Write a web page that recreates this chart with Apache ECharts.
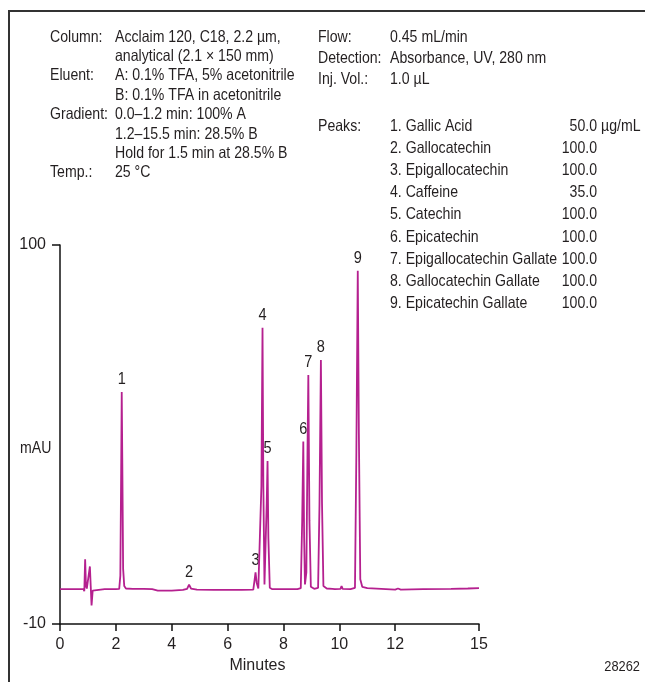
<!DOCTYPE html>
<html>
<head>
<meta charset="utf-8">
<script src="https://cdn.jsdelivr.net/npm/echarts@6/dist/echarts.min.js"></script>
<style>
html,body{margin:0;padding:0;background:#fff;}
#c{width:645px;height:682px;}
</style>
</head>
<body>
<div id="c"></div>
<script>
// ---- data ----
var xTicks = [0, 2, 4, 6, 8, 10, 12, 15];
var yTicks = [-10, 100];
var trace = [
  [0.00, 0.1], [0.50, 0.1], [0.84, 0.1], [0.87, -0.5], [0.90, 8.8], [0.93, 1.0], [0.96, 0.3],
  [1.00, 0.5], [1.07, 6.7], [1.10, 1.0], [1.13, -4.6], [1.17, -0.3], [1.22, 0.2], [1.60, 0.1],
  [2.00, 0.1], [2.12, 0.2], [2.16, 4.0], [2.19, 35.0], [2.21, 57.3], [2.23, 38.0], [2.26, 6.0],
  [2.30, 1.0], [2.36, 0.3], [2.60, 0.2], [3.00, 0.2], [3.30, 0.1], [3.50, -0.3], [4.00, -0.3],
  [4.40, -0.1], [4.55, 0.2], [4.62, 1.4], [4.69, 0.3], [4.90, 0.0], [5.50, -0.1], [6.50, -0.1],
  [6.92, 0.0], [6.97, 3.0], [7.00, 5.0], [7.04, 2.0], [7.10, 0.3], [7.17, 0.5], [7.21, 30.0],
  [7.25, 76.0], [7.28, 30.0], [7.32, 1.5], [7.36, 2.0], [7.40, 25.0], [7.43, 37.3], [7.46, 15.0],
  [7.51, 0.5], [7.60, 0.1], [8.00, 0.1], [8.50, 0.1], [8.62, 0.4], [8.67, 20.0], [8.71, 43.0],
  [8.74, 15.0], [8.77, 1.5], [8.82, 5.0], [8.86, 40.0], [8.89, 62.3], [8.93, 20.0], [8.98, 0.8],
  [9.10, 0.2], [9.24, 0.5], [9.29, 25.0], [9.34, 66.6], [9.38, 25.0], [9.43, 1.0], [9.55, 0.3],
  [9.75, 0.2], [9.80, 0.6], [9.84, 0.1], [10.04, 0.2], [10.08, 1.0], [10.12, 0.2], [10.40, 0.1],
  [10.56, 0.5], [10.61, 40.0], [10.66, 92.5], [10.70, 45.0], [10.75, 3.0], [10.82, 0.8],
  [11.00, 0.4], [11.50, 0.2], [12.00, 0.0], [12.10, 0.3], [12.20, 0.0], [13.00, 0.1],
  [14.00, 0.2], [14.60, 0.3], [15.00, 0.4]
];
var peakNumbers = ['1', '2', '3', '4', '5', '6', '7', '8', '9'];
var peakTimes   = [2.21, 4.62, 7.00, 7.25, 7.43, 8.71, 8.89, 9.34, 10.66];
var peakHeights = [57.3, 1.4, 5.0, 76.0, 37.3, 43.0, 62.3, 66.6, 92.5];

var condLabels = ['Column:', '', 'Eluent:', '', 'Gradient:', '', '', 'Temp.:'];
var condValues = ['Acclaim 120, C18, 2.2 µm,', 'analytical (2.1 × 150 mm)', 'A: 0.1% TFA, 5% acetonitrile',
                  'B: 0.1% TFA in acetonitrile', '0.0–1.2 min: 100% A', '1.2–15.5 min: 28.5% B',
                  'Hold for 1.5 min at 28.5% B', '25 °C'];
var instLabels = ['Flow:', 'Detection:', 'Inj. Vol.:'];
var instValues = ['0.45 mL/min', 'Absorbance, UV, 280 nm', '1.0 µL'];
var peakNames = ['1. Gallic Acid', '2. Gallocatechin', '3. Epigallocatechin', '4. Caffeine', '5. Catechin',
                 '6. Epicatechin', '7. Epigallocatechin Gallate', '8. Gallocatechin Gallate', '9. Epicatechin Gallate'];
var peakAmounts = ['50.0', '100.0', '100.0', '35.0', '100.0', '100.0', '100.0', '100.0', '100.0'];
var amountUnit = 'µg/mL';
var yName = 'mAU';
var xName = 'Minutes';
var figId = '28262';

// ---- chart ----
var FONT = "'Liberation Sans', Arial, sans-serif";
var TXT = '#231f20';
var SX = 0.855;
var chart = echarts.init(document.getElementById('c'), null, {renderer: 'canvas'});

function txt(x, y, s, align, size) {
  return {type: 'text', x: x, y: y, scaleX: SX, scaleY: 1, silent: true,
          style: {text: s, x: 0, y: 0, fill: TXT, font: (size || 16.5) + 'px ' + FONT,
                  textAlign: align || 'left', textVerticalAlign: 'middle'}};
}
var g = [];
g.push({type: 'line', silent: true, shape: {x1: 9, y1: 11, x2: 645, y2: 11}, style: {stroke: '#333', lineWidth: 2}});
g.push({type: 'line', silent: true, shape: {x1: 9, y1: 10, x2: 9, y2: 682}, style: {stroke: '#333', lineWidth: 2}});
for (var i = 0; i < condValues.length; i++) {
  var yy = 37 + i * 19.4;
  if (condLabels[i]) g.push(txt(50, yy, condLabels[i]));
  g.push(txt(115, yy, condValues[i]));
}
for (var i = 0; i < instValues.length; i++) {
  var yy = 37 + i * 21;
  g.push(txt(318, yy, instLabels[i]));
  g.push(txt(390, yy, instValues[i]));
}
g.push(txt(318, 126, 'Peaks:'));
for (var i = 0; i < peakNames.length; i++) {
  var yy = 126 + i * 22.2;
  g.push(txt(390, yy, peakNames[i]));
  g.push(txt(597, yy, peakAmounts[i], 'right'));
}
g.push(txt(601, 126, amountUnit));
g.push(txt(20, 448, yName));
g.push(txt(640, 667, figId, 'right', 15));

var labelData = peakTimes.map(function (t, i) { return [t, peakHeights[i], i]; });

chart.setOption({
  animation: false,
  backgroundColor: '#fff',
  textStyle: {fontFamily: FONT},
  grid: {left: 60, right: 166, top: 245, bottom: 58, containLabel: false},
  xAxis: {
    type: 'value', min: 0, max: 15, interval: 1,
    name: xName, nameLocation: 'middle', nameGap: 33,
    nameTextStyle: {color: TXT, fontSize: 16, fontFamily: FONT, padding: [0, 24, 0, 0]},
    axisLine: {show: true, onZero: false, lineStyle: {color: '#111', width: 1.5}},
    axisTick: {show: true, length: 7, inside: false, customValues: xTicks, lineStyle: {color: '#111', width: 1.5}},
    axisLabel: {show: true, margin: 13, color: TXT, fontSize: 16, fontFamily: FONT, customValues: xTicks},
    splitLine: {show: false}
  },
  yAxis: {
    type: 'value', min: -10, max: 100, interval: 110,
    axisLine: {show: true, onZero: false, lineStyle: {color: '#111', width: 1.5}},
    axisTick: {show: true, length: 8, customValues: yTicks, lineStyle: {color: '#111', width: 1.5}},
    axisLabel: {show: true, margin: 14, color: TXT, fontSize: 16, fontFamily: FONT, customValues: yTicks},
    splitLine: {show: false}
  },
  series: [
    {type: 'line', data: trace, symbol: 'none', smooth: false, silent: true,
     lineStyle: {color: '#b5208f', width: 1.8}},
    {type: 'custom', data: labelData, silent: true,
     renderItem: function (params, api) {
       var p = api.coord([api.value(0), api.value(1)]);
       return {type: 'text', x: p[0], y: p[1] - 4, scaleX: SX,
               style: {text: peakNumbers[api.value(2)], fill: TXT, font: '17px ' + FONT,
                       textAlign: 'center', textVerticalAlign: 'bottom'}};
     }}
  ],
  graphic: g
});
</script>
</body>
</html>
